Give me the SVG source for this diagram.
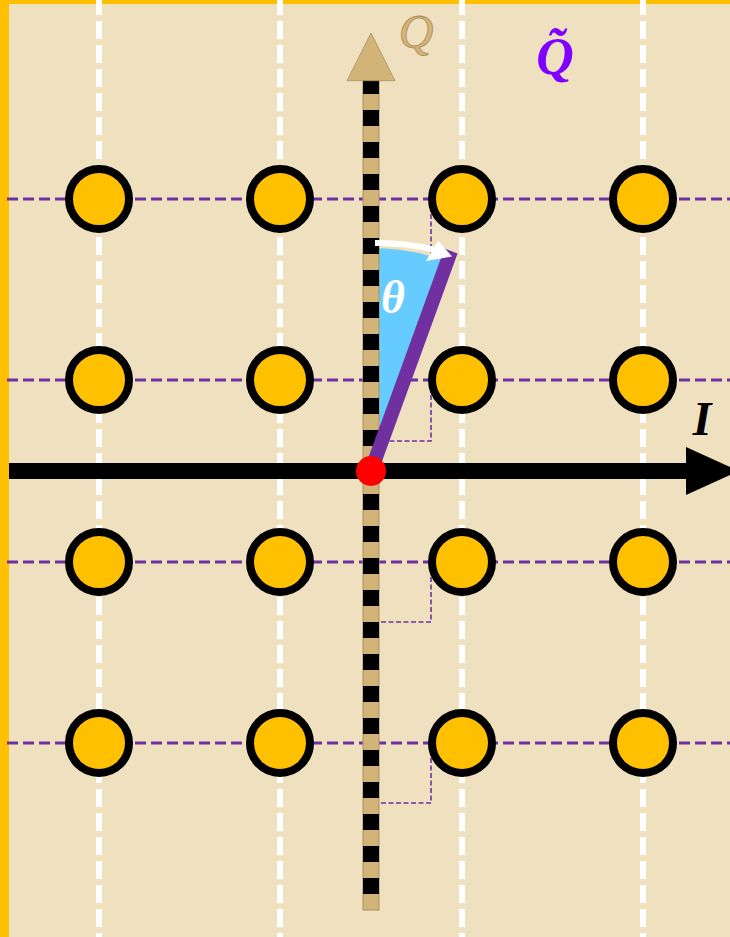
<svg xmlns="http://www.w3.org/2000/svg" width="730" height="937" viewBox="0 0 730 937">
  <style>
    .vgrid { stroke: #FFFFFF; stroke-width: 6; stroke-dasharray: 18 6; }
    .hgrid { stroke: #7030A0; stroke-width: 3; stroke-dasharray: 11 5; }
    .proj { fill: none; stroke: #7030A0; stroke-width: 1.6; stroke-dasharray: 5 2.5; }
    .pt { fill: #FFC000; stroke: #000000; stroke-width: 8; }
    .lbl { font-family: "Liberation Serif", "DejaVu Serif", serif; font-style: italic; }
  </style>
  <rect x="0" y="0" width="730" height="937" fill="#EFE0BF"/>
  <rect x="0" y="0" width="9" height="937" fill="#FFC000"/>
  <rect x="0" y="0" width="730" height="4" fill="#FFC000"/>

  <g id="grid">
    <line class="vgrid" x1="99" y1="-3" x2="99" y2="937"/>
    <line class="vgrid" x1="280" y1="-3" x2="280" y2="937"/>
    <line class="vgrid" x1="462" y1="-3" x2="462" y2="937"/>
    <line class="vgrid" x1="643" y1="-3" x2="643" y2="937"/>
    <line class="hgrid" x1="7" y1="199" x2="730" y2="199"/>
    <line class="hgrid" x1="7" y1="380" x2="730" y2="380"/>
    <line class="hgrid" x1="7" y1="562" x2="730" y2="562"/>
    <line class="hgrid" x1="7" y1="743" x2="730" y2="743"/>
  </g>

  <g id="connectors">
    <path class="proj" d="M431,199 V259 H379"/>
    <path class="proj" d="M431,380 V441 H379"/>
    <path class="proj" d="M431,562 V622 H379"/>
    <path class="proj" d="M431,743 V803 H379"/>
  </g>

  <g id="points">
    <g id="p11"><circle class="pt" cx="99" cy="199" r="30"/></g>
    <g id="p12"><circle class="pt" cx="280" cy="199" r="30"/></g>
    <g id="p13"><circle class="pt" cx="462" cy="199" r="30"/></g>
    <g id="p14"><circle class="pt" cx="643" cy="199" r="30"/></g>
    <g id="p21"><circle class="pt" cx="99" cy="380" r="30"/></g>
    <g id="p22"><circle class="pt" cx="280" cy="380" r="30"/></g>
    <g id="p23"><circle class="pt" cx="462" cy="380" r="30"/></g>
    <g id="p24"><circle class="pt" cx="643" cy="380" r="30"/></g>
    <g id="p31"><circle class="pt" cx="99" cy="562" r="30"/></g>
    <g id="p32"><circle class="pt" cx="280" cy="562" r="30"/></g>
    <g id="p33"><circle class="pt" cx="462" cy="562" r="30"/></g>
    <g id="p34"><circle class="pt" cx="643" cy="562" r="30"/></g>
    <g id="p41"><circle class="pt" cx="99" cy="743" r="30"/></g>
    <g id="p42"><circle class="pt" cx="280" cy="743" r="30"/></g>
    <g id="p43"><circle class="pt" cx="462" cy="743" r="30"/></g>
    <g id="p44"><circle class="pt" cx="643" cy="743" r="30"/></g>
  </g>

  <g id="angle">
    <path d="M371,471 L371,248 A223,223 0 0 1 447.3,261.4 Z" fill="#66CCFF"/>
  </g>

  <g id="q-axis">
    <rect x="363" y="80" width="16" height="830" fill="#D2B478" stroke="#A89060" stroke-width="1"/>
    <line x1="371" y1="78" x2="371" y2="910" stroke="#000000" stroke-width="16" stroke-dasharray="16 16"/>
    <polygon points="371,33 347,80.7 395,80.7" fill="#D2B478" stroke="#A89060" stroke-width="0.8"/>
  </g>

  <g id="rotated-axis">
    <line x1="371" y1="471" x2="451" y2="251" stroke="#7030A0" stroke-width="14"/>
  </g>

  <g id="i-axis">
    <line x1="9" y1="471" x2="690" y2="471" stroke="#000000" stroke-width="16"/>
    <polygon points="686,447 686,495 739,471" fill="#000000"/>
  </g>

  <g id="rotation-arrow">
    <path d="M375,243 A228,228 0 0 1 433,249.5" fill="none" stroke="#FFFFFF" stroke-width="6"/>
    <polygon points="452,256.5 438,240.5 426,261" fill="#FFFFFF"/>
  </g>

  <g id="origin"><circle cx="371" cy="471" r="15" fill="#FF0000"/></g>

  <g id="labels">
    <text class="lbl" x="416" y="48" font-size="48" text-anchor="middle" fill="#D2B478" stroke="#A88A58" stroke-width="0.8">Q</text>
    <text class="lbl" x="555" y="74" font-size="52" font-weight="bold" text-anchor="middle" fill="#7F00FF">Q̃</text>
    <text class="lbl" x="393" y="313" font-size="46" font-weight="bold" text-anchor="middle" fill="#FFFFFF">θ</text>
    <text class="lbl" x="702" y="435" font-size="48" font-weight="bold" text-anchor="middle" fill="#000000">I</text>
  </g>
</svg>
